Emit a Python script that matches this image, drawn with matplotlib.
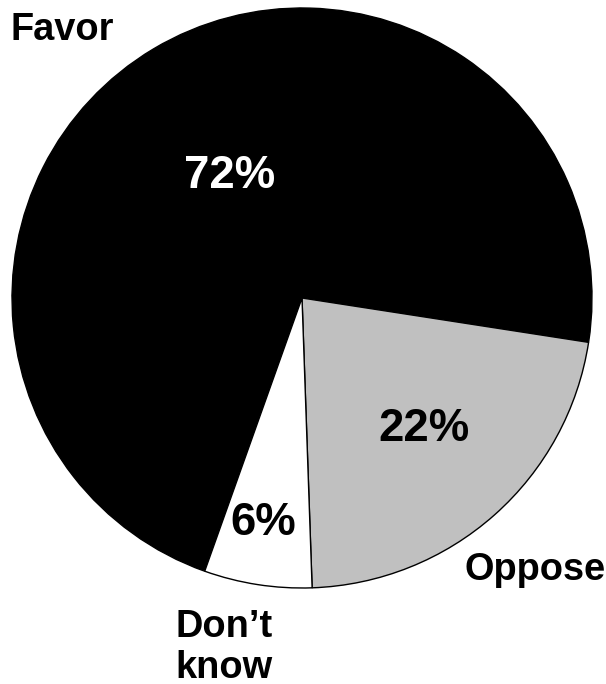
import matplotlib
matplotlib.use("Agg")
import matplotlib.pyplot as plt

labels = ["Favor", "Oppose", "Don\u2019t\nknow"]
values = [72, 22, 6]
colors = ["#000000", "#c0c0c0", "#ffffff"]
pct_colors = ["white", "black", "black"]

# label / percent positions in pie units (radius = 1)
label_pos = [(-0.828, 0.924), (0.805, -0.938), (-0.269, -1.205)]
pct_pos = [(-0.248, 0.421), (0.421, -0.452), (-0.134, -0.776)]

plt.rcParams['font.family'] = ['Liberation Sans', 'DejaVu Sans']

fig = plt.figure(figsize=(6.06, 6.84), dpi=100)
ax = fig.add_axes([0, 0, 1, 1])

ax.pie(values, colors=colors, startangle=250.4, counterclock=False,
       radius=1.0, center=(0, 0),
       wedgeprops=dict(edgecolor="black", linewidth=1.0))

for lab, (x, y) in zip(labels, label_pos):
    ax.text(x, y, lab, ha="center", va="center", fontsize=27.4,
            fontweight="bold", linespacing=1.15)

for v, c, (x, y) in zip(values, pct_colors, pct_pos):
    ax.text(x, y, "%d%%" % v, ha="center", va="center", fontsize=32.8,
            fontweight="bold", color=c)

# center of pie at pixel (302, 298), radius 290 px
ax.set_xlim(-302 / 290, (606 - 302) / 290)
ax.set_ylim((298 - 684) / 290, 298 / 290)
ax.set_aspect("auto")
ax.axis("off")

fig.savefig("out.png", dpi=100)
